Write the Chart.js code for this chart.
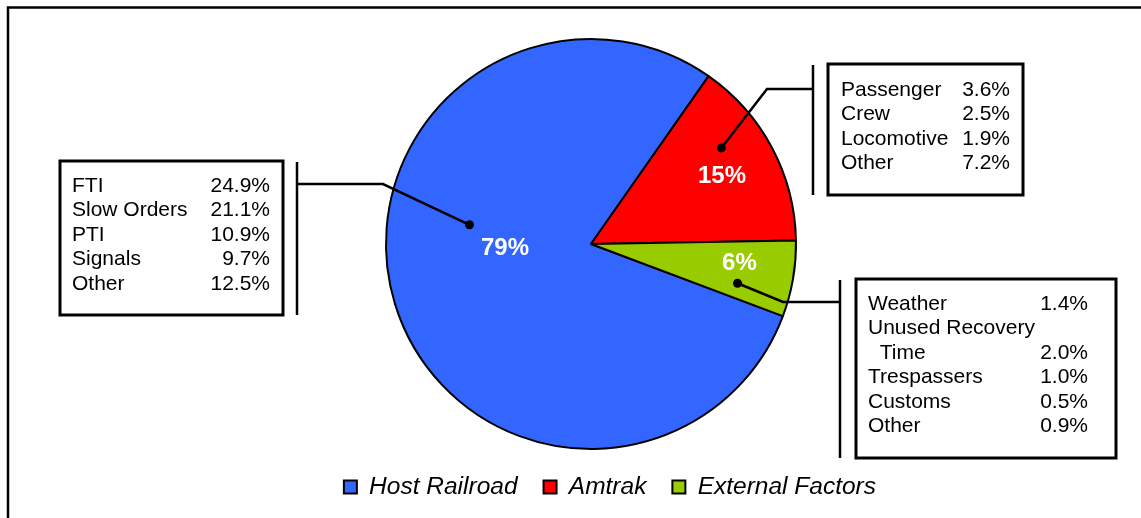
<!DOCTYPE html>
<html>
<head>
<meta charset="utf-8">
<script src="https://cdn.jsdelivr.net/npm/chart.js@4/dist/chart.umd.min.js"></script>
<style>
	html, body { margin: 0; padding: 0; background: #fff; }
	#wrap { width: 1141px; height: 518px; position: relative; }
</style>
</head>
<body>
<div id="wrap"><canvas id="delayChart"></canvas></div>
<script>
// delay responsibility, share of total delay minutes
var categories = ["Host Railroad", "Amtrak", "External Factors"];
var shares = [79, 15, 6];
var colors = ["#3366ff", "#ff0000", "#99cc00"];

// breakdown of each group
var hostCauses = ["FTI", "Slow Orders", "PTI", "Signals", "Other"];
var hostValues = ["24.9%", "21.1%", "10.9%", "9.7%", "12.5%"];
var amtrakCauses = ["Passenger", "Crew", "Locomotive", "Other"];
var amtrakValues = ["3.6%", "2.5%", "1.9%", "7.2%"];
var externalCauses = ["Weather", "Unused Recovery", "  Time", "Trespassers", "Customs", "Other"];
var externalValues = ["1.4%", "", "2.0%", "1.0%", "0.5%", "0.9%"];

var FONT = "'Liberation Sans', Arial, sans-serif";

// callout boxes: where each box sits and where its leader line goes
// dot is [angle in degrees, fraction of radius] measured from the pie centre
var callouts = [
	{ slice: 0, labels: hostCauses, values: hostValues,
	  box: [60, 161, 223, 154], textX: 72, valueX: 270, firstLine: 192,
	  bracketX: 297, elbow: [383, 184], dot: [189, 0.6] },
	{ slice: 1, labels: amtrakCauses, values: amtrakValues,
	  box: [828, 64, 195, 131], textX: 841, valueX: 1010, firstLine: 96,
	  bracketX: 813, elbow: [767, 89], dot: [-36.4, 0.79] },
	{ slice: 2, labels: externalCauses, values: externalValues,
	  box: [856, 279, 260, 179], textX: 868, valueX: 1088, firstLine: 310,
	  bracketX: 840, elbow: [783, 302], dot: [15, 0.74] }
];
// where the percent labels sit, same polar convention
var pctPlaces = [[177, 0.42], [-27.4, 0.72], [7.3, 0.73]];

function polar(arc, spec) {
	var a = spec[0] * Math.PI / 180;
	var r = arc.outerRadius * spec[1];
	return [arc.x + Math.cos(a) * r, arc.y + Math.sin(a) * r];
}

var calloutPlugin = {
	id: "callouts",
	beforeDraw: function(chart) {
		var ctx = chart.ctx;
		ctx.save();
		// frame round the figure
		ctx.strokeStyle = "#000";
		ctx.lineWidth = 2.5;
		ctx.beginPath();
		ctx.moveTo(8, chart.height);
		ctx.lineTo(8, 7.5);
		ctx.lineTo(chart.width, 7.5);
		ctx.stroke();
		ctx.restore();
	},
	afterDraw: function(chart) {
		var ctx = chart.ctx;
		var arcs = chart.getDatasetMeta(0).data;
		ctx.save();

		// percent labels
		ctx.fillStyle = "#fff";
		ctx.font = "bold 24px " + FONT;
		ctx.textAlign = "center";
		ctx.textBaseline = "middle";
		for (var i = 0; i < arcs.length; i++) {
			var p = polar(arcs[i], pctPlaces[i]);
			ctx.fillText(shares[i] + "%", p[0], p[1]);
		}

		for (var c = 0; c < callouts.length; c++) {
			var co = callouts[c];
			var b = co.box;
			ctx.strokeStyle = "#000";
			ctx.lineWidth = 3;
			ctx.strokeRect(b[0], b[1], b[2], b[3]);

			// bracket beside the box
			ctx.lineWidth = 2.5;
			ctx.beginPath();
			ctx.moveTo(co.bracketX, b[1] + 1);
			ctx.lineTo(co.bracketX, b[1] + b[3]);
			ctx.stroke();

			// leader line to the slice
			var d = polar(arcs[co.slice], co.dot);
			ctx.lineWidth = 2.5;
			ctx.beginPath();
			ctx.moveTo(co.bracketX, co.elbow[1]);
			ctx.lineTo(co.elbow[0], co.elbow[1]);
			ctx.lineTo(d[0], d[1]);
			ctx.stroke();
			ctx.fillStyle = "#000";
			ctx.beginPath();
			ctx.arc(d[0], d[1], 4.5, 0, Math.PI * 2);
			ctx.fill();

			// rows of causes
			ctx.font = "21px " + FONT;
			ctx.textBaseline = "alphabetic";
			for (var r = 0; r < co.labels.length; r++) {
				var y = co.firstLine + r * 24.4;
				ctx.textAlign = "left";
				ctx.fillText(co.labels[r], co.textX, y);
				ctx.textAlign = "right";
				ctx.fillText(co.values[r], co.valueX, y);
			}
		}
		ctx.restore();
	}
};

var ctx = document.getElementById("delayChart").getContext("2d");
var delayChart = new Chart(ctx, {
	type: "pie",
	data: {
		labels: categories,
		datasets: [{
			data: shares,
			backgroundColor: colors,
			borderColor: "#000",
			borderWidth: 2,
			hoverOffset: 0
		}]
	},
	options: {
		responsive: true,
		maintainAspectRatio: false,
		animation: false,
		rotation: 110.6,
		radius: 205,
		layout: { padding: { left: 280, right: 239, top: 39.25, bottom: 8.75 } },
		plugins: {
			tooltip: { enabled: false },
			legend: {
				position: "bottom",
				align: "end",
				labels: {
					boxWidth: 13,
					boxHeight: 13,
					padding: 26,
					color: "#000",
					font: { family: FONT, size: 24.5, style: "italic" }
				}
			}
		}
	},
	plugins: [calloutPlugin]
});
</script>
</body>
</html>
